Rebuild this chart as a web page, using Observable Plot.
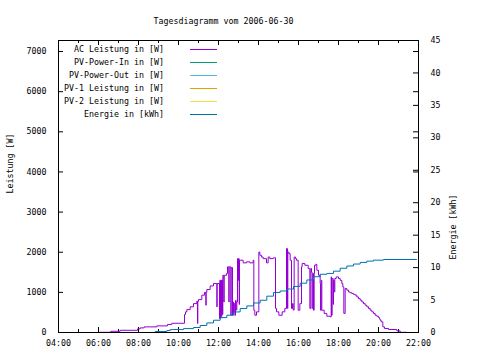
<!DOCTYPE html>
<html><head><meta charset="utf-8">
<script src="https://cdn.jsdelivr.net/npm/d3@7"></script>
<script src="https://cdn.jsdelivr.net/npm/@observablehq/plot@0.6"></script>
<style>
body{margin:0;background:#fff}
#wrap{position:relative;width:480px;height:360px;font-family:"DejaVu Sans Mono",monospace;font-size:8.3px;color:#000}
#wrap svg{position:absolute;left:0;top:0}
.lg{position:absolute;white-space:pre;line-height:10px}
.ls{position:absolute;height:1px}
</style></head><body><div id="wrap"></div>
<script>
const title = "Tagesdiagramm vom 2006-06-30";
const yLabel = "Leistung [W]";
const y2Label = "Energie [kWh]";
const seriesNames = ["AC Leistung in [W]", "PV-Power-In in [W]", "PV-Power-Out in [W]", "PV-1 Leistung in [W]", "PV-2 Leistung in [W]", "Energie in [kWh]"];
const seriesColors = ["#9400d3", "#009e73", "#56b4e9", "#e69f00", "#f0e442", "#0072b2"];
const xTickLabels = ["04:00","06:00","08:00","10:00","12:00","14:00","16:00","18:00","20:00","22:00"];
const yTicks = [0,1000,2000,3000,4000,5000,6000,7000];
const y2Ticks = [0,5,10,15,20,25,30,35,40,45];
const yMax = 7275, y2Max = 45;

const acTimes = ["06:00","06:37","07:05","07:57","08:05","08:17","08:55","09:27","09:40","10:18","10:21","10:25","10:35","10:45","10:55","10:57","10:58","11:00","11:10","11:18","11:22","11:23","11:25","11:35","11:45","11:55","11:56","12:03","12:04","12:06","12:07","12:09","12:10","12:12","12:13","12:16","12:17","12:24","12:27","12:31","12:32","12:37","12:38","12:42","12:43","12:45","12:47","12:49","12:51","12:53","12:55","12:57","12:59","13:00","13:02","13:03","13:14","13:24","13:34","13:44","13:46","13:49","13:54","14:01","14:04","14:09","14:14","14:24","14:29","14:34","14:44","14:51","14:54","15:01","15:11","15:19","15:24","15:27","15:28","15:31","15:35","15:39","15:42","15:44","15:47","15:51","15:54","15:59","16:04","16:09","16:11","16:19","16:29","16:34","16:37","16:39","16:41","16:43","16:45","16:47","16:48","16:52","16:55","17:00","17:05","17:06","17:08","17:10","17:17","17:25","17:35","17:38","17:39","17:41","17:44","17:45","17:47","17:49","17:53","18:00","18:05","18:10","18:13","18:16","18:20","18:25","18:30","18:35","18:40","18:45","18:50","18:55","19:00","19:05","19:10","19:15","19:20","19:25","19:30","19:35","19:40","19:45","19:50","19:55","20:00","20:03","20:05","20:08","20:13","20:18","20:30","20:55","21:05","21:23"];
const acWatts = [5,30,55,90,115,140,165,200,230,450,515,570,640,720,780,225,780,820,930,1000,680,1000,1070,1160,1220,640,1220,350,1300,350,1300,400,1300,450,1425,760,1425,1470,1635,760,1635,430,1620,430,760,500,720,430,800,560,760,1840,1300,1840,700,1800,1735,1760,1735,1800,555,430,515,2005,1925,1880,1840,1735,1880,1840,1860,600,515,430,515,600,2090,600,2005,1965,1800,600,720,560,1880,1840,1800,555,720,1635,1720,1675,1595,600,1595,1500,600,1470,555,1470,1675,1700,1550,1425,1220,555,1300,555,475,405,390,1385,430,1345,700,1300,1010,1345,1385,1345,1300,1220,1135,475,1095,1055,1010,990,970,950,930,885,845,805,760,720,680,640,600,555,515,475,430,405,375,340,305,265,140,100,75,40,5,5];

const energyTimes = ["06:40","08:50","09:25","09:35","10:15","10:45","11:05","11:25","11:45","12:05","12:25","12:45","13:05","13:25","13:45","14:05","14:25","14:45","15:05","15:25","15:45","16:05","16:25","16:45","17:05","17:25","17:45","18:05","18:25","18:45","19:05","19:25","19:45","20:15","21:55"];
const energyKWh = [0,0.15,0.3,0.45,0.6,0.77,1.08,1.48,1.89,2.3,2.66,3.17,3.69,4.1,4.55,4.97,5.6,6.17,6.4,6.7,7.1,7.6,8.1,8.6,8.97,9.1,9.45,9.9,10.25,10.55,10.8,11.0,11.15,11.25,11.25];

const toMin = s => { const [h, m] = s.split(":").map(Number); return h * 60 + m; };
const k = yMax / y2Max;
const ac = acTimes.map((t, i) => ({t: toMin(t), v: acWatts[i]}));
const en = energyTimes.map((t, i) => ({t: toMin(t), v: energyKWh[i] * k}));
const xTicks = xTickLabels.map(toMin);
const xMinor = xTicks.slice(0, -1).map(t => t + 60);
const y2Pos = y2Ticks.map(d => d * k);

const W = 480, H = 360, mL = 58, mR = 62, mT = 40, mB = 28;
const fw = W - mL - mR, fh = H - mT - mB;
const tl = 5, tm = 3;
const fmtX = m => String(Math.floor(m / 60)).padStart(2, "0") + ":00";

const chart = Plot.plot({
  width: W, height: H,
  marginLeft: mL, marginRight: mR, marginTop: mT, marginBottom: mB,
  style: {fontFamily: '"DejaVu Sans Mono", monospace', fontSize: "8.3px", color: "#000", background: "#fff", overflow: "visible"},
  x: {domain: [xTicks[0], xTicks[xTicks.length - 1]]},
  y: {domain: [0, yMax]},
  marks: [
    Plot.tickX(xTicks, {x: d => d, insetTop: fh - tl, stroke: "#000"}),
    Plot.tickX(xTicks, {x: d => d, insetBottom: fh - tl, stroke: "#000"}),
    Plot.tickX(xMinor, {x: d => d, insetTop: fh - tm, stroke: "#000"}),
    Plot.tickX(xMinor, {x: d => d, insetBottom: fh - tm, stroke: "#000"}),
    Plot.tickY(yTicks, {y: d => d, insetRight: fw - tl, stroke: "#000"}),
    Plot.tickY(yTicks, {y: d => d, insetLeft: fw - tl, stroke: "#000"}),
    Plot.tickY(y2Pos, {y: d => d, insetLeft: fw - tl, stroke: "#000"}),
    Plot.axisX({ticks: xTicks, tickSize: 0, tickPadding: 8, tickFormat: fmtX, label: null}),
    Plot.axisY({ticks: yTicks, tickSize: 0, tickPadding: 12, tickFormat: d => String(d), label: null}),
    Plot.axisY({anchor: "right", ticks: y2Pos, tickSize: 0, tickPadding: 12, tickFormat: d => String(Math.round(d / k)), label: null}),
    Plot.text([yLabel], {text: d => d, frameAnchor: "left", rotate: -90, dx: -48, dy: 7}),
    Plot.text([y2Label], {text: d => d, frameAnchor: "right", rotate: -90, dx: 35, dy: 8}),
    Plot.text([title], {text: d => d, frameAnchor: "top", dx: -15, dy: -22}),
    Plot.line(ac, {x: "t", y: "v", curve: "step-after", stroke: seriesColors[0], strokeWidth: 1}),
    Plot.line(en, {x: "t", y: "v", curve: "step-after", stroke: seriesColors[5], strokeWidth: 1}),
    Plot.frame({stroke: "#000"})
  ]
});
const wrap = document.getElementById("wrap");
wrap.appendChild(chart);

// legend
seriesNames.forEach((name, i) => {
  const y = 48.7 + 13 * i;
  const t = document.createElement("div");
  t.className = "lg";
  t.textContent = name;
  t.style.right = (W - 164) + "px";
  t.style.top = (y - 5) + "px";
  wrap.appendChild(t);
  const s = document.createElement("div");
  s.className = "ls";
  s.style.left = "190px";
  s.style.width = "27px";
  s.style.top = Math.round(y) + "px";
  s.style.background = seriesColors[i];
  wrap.appendChild(s);
});
</script></body></html>
